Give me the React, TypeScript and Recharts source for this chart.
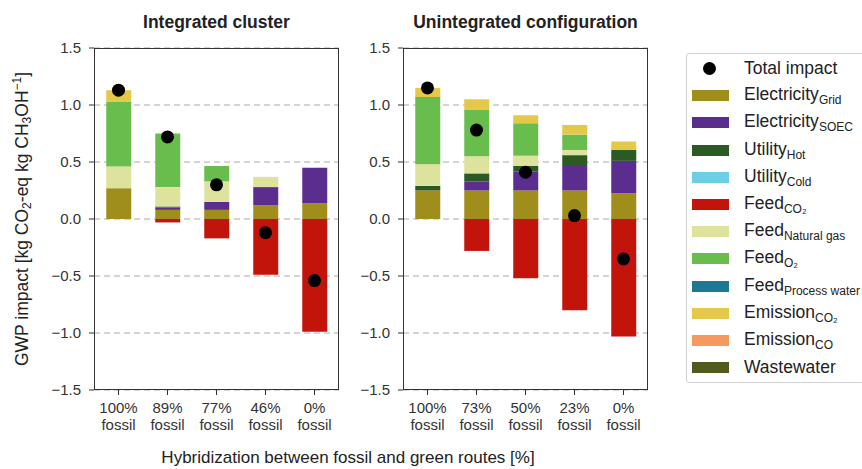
import React from 'react';
import { ComposedChart, Bar, Line, XAxis, YAxis, CartesianGrid } from 'recharts';

// categories
const leftCategories = ['100% fossil', '89% fossil', '77% fossil', '46% fossil', '0% fossil'];
const rightCategories = ['100% fossil', '73% fossil', '50% fossil', '23% fossil', '0% fossil'];

// integrated cluster contributions [kg CO2-eq / kg CH3OH]
const leftGrid = [0.27, 0.08, 0.08, 0.12, 0.14];
const leftSoec = [0, 0.02, 0.07, 0.16, 0.31];
const leftHot = [0, 0.01, 0, 0, 0];
const leftCold = [0, 0, 0, 0, 0];
const leftFeedCo2 = [0, -0.03, -0.17, -0.49, -0.99];
const leftNatGas = [0.19, 0.17, 0.18, 0.09, 0];
const leftO2 = [0.57, 0.47, 0.135, 0, 0];
const leftWater = [0, 0, 0, 0, 0];
const leftEmisCo2 = [0.1, 0, 0, 0, 0];
const leftEmisCo = [0, 0, 0, 0, 0];
const leftWaste = [0, 0, 0, 0, 0];
const leftTotal = [1.13, 0.72, 0.3, -0.12, -0.54];

// unintegrated configuration
const rightGrid = [0.25, 0.25, 0.25, 0.25, 0.225];
const rightSoec = [0, 0.08, 0.165, 0.215, 0.285];
const rightHot = [0.04, 0.07, 0.05, 0.095, 0.095];
const rightCold = [0, 0, 0, 0, 0];
const rightFeedCo2 = [0, -0.28, -0.52, -0.8, -1.03];
const rightNatGas = [0.19, 0.15, 0.09, 0.045, 0];
const rightO2 = [0.59, 0.41, 0.285, 0.135, 0];
const rightWater = [0, 0, 0, 0, 0];
const rightEmisCo2 = [0.08, 0.09, 0.07, 0.085, 0.075];
const rightEmisCo = [0, 0, 0, 0, 0];
const rightWaste = [0, 0, 0, 0, 0];
const rightTotal = [1.15, 0.78, 0.41, 0.03, -0.35];

const yTicks = [-1.5, -1, -0.5, 0, 0.5, 1, 1.5];

const SERIES = [
    { key: 'grid', name: 'Electricity', sub: 'Grid', color: '#a08e1c' },
    { key: 'soec', name: 'Electricity', sub: 'SOEC', color: '#5a2d8f' },
    { key: 'hot', name: 'Utility', sub: 'Hot', color: '#2c5a25' },
    { key: 'cold', name: 'Utility', sub: 'Cold', color: '#6ccfe6' },
    { key: 'feedCo2', name: 'Feed', sub: 'CO₂', color: '#c2140a' },
    { key: 'natGas', name: 'Feed', sub: 'Natural gas', color: '#dde39c' },
    { key: 'o2', name: 'Feed', sub: 'O₂', color: '#69bd4c' },
    { key: 'water', name: 'Feed', sub: 'Process water', color: '#1c7895' },
    { key: 'emisCo2', name: 'Emission', sub: 'CO₂', color: '#e5c84a' },
    { key: 'emisCo', name: 'Emission', sub: 'CO', color: '#f59a5e' },
    { key: 'waste', name: 'Wastewater', sub: '', color: '#4f5a1c' },
];

const buildRows = (cats: string[], cols: Record<string, number[]>, total: number[]) =>
    cats.map((c, i) => {
        const row: Record<string, any> = { label: c, total: total[i] };
        Object.keys(cols).forEach((k) => (row[k] = cols[k][i]));
        return row;
    });

const leftRows = buildRows(leftCategories, {
    grid: leftGrid, soec: leftSoec, hot: leftHot, cold: leftCold, feedCo2: leftFeedCo2, natGas: leftNatGas,
    o2: leftO2, water: leftWater, emisCo2: leftEmisCo2, emisCo: leftEmisCo, waste: leftWaste,
}, leftTotal);

const rightRows = buildRows(rightCategories, {
    grid: rightGrid, soec: rightSoec, hot: rightHot, cold: rightCold, feedCo2: rightFeedCo2, natGas: rightNatGas,
    o2: rightO2, water: rightWater, emisCo2: rightEmisCo2, emisCo: rightEmisCo, waste: rightWaste,
}, rightTotal);

const FONT = '"Liberation Sans", Arial, Helvetica, sans-serif';
const TEXT = '#333';

const fmt = (v: number) => (v < 0 ? '\u2212' + Math.abs(v).toFixed(1) : v.toFixed(1));

const XTick = ({ x, y, payload }: any) => {
    const [a, b] = String(payload.value).split(' ');
    return (
        <text x={x} y={y} textAnchor="middle" fill={TEXT} fontSize={15} fontFamily={FONT}>
            <tspan x={x} dy={16}>{a}</tspan>
            <tspan x={x} dy={17}>{b}</tspan>
        </text>
    );
};

const CHART_W = 345;
const CHART_H = 469;
const PLOT_LEFT = 94;
const PLOT_TOP = 48;
const PLOT_W = 245;
const PLOT_H = 342;

const Panel = ({ rows, left, title }: { rows: any[]; left: number; title: string }) => (
    <div style={{ position: 'absolute', left, top: 0, width: CHART_W, height: CHART_H }}>
        <ComposedChart
            width={CHART_W}
            height={CHART_H}
            data={rows}
            stackOffset="sign"
            barCategoryGap="25%"
            margin={{ top: PLOT_TOP, right: CHART_W - PLOT_LEFT - PLOT_W, bottom: 29, left: 0 }}
        >
            <CartesianGrid vertical={false} stroke="#aaa" strokeDasharray="6 4" />
            <XAxis
                dataKey="label"
                height={50}
                axisLine={false}
                tickLine={{ stroke: TEXT }}
                tickSize={5}
                tick={<XTick />}
                interval={0}
            />
            <YAxis
                width={PLOT_LEFT}
                domain={[-1.5, 1.5]}
                ticks={yTicks}
                tickFormatter={fmt}
                axisLine={false}
                tickLine={{ stroke: TEXT }}
                tickSize={5}
                tickMargin={8}
                tick={{ fill: TEXT, fontSize: 15, fontFamily: FONT }}
            />
            {SERIES.map((s) => (
                <Bar key={s.key} dataKey={s.key} stackId="a" fill={s.color} isAnimationActive={false} />
            ))}
            <Line
                dataKey="total"
                stroke="none"
                dot={{ r: 6.5, fill: '#000', stroke: '#000', strokeWidth: 0 }}
                activeDot={false}
                isAnimationActive={false}
            />
        </ComposedChart>
        <div
            style={{
                position: 'absolute', left: PLOT_LEFT, top: PLOT_TOP, width: PLOT_W, height: PLOT_H,
                border: `1.2px solid ${TEXT}`, boxSizing: 'border-box', pointerEvents: 'none',
            }}
        />
        <div
            style={{
                position: 'absolute', left: PLOT_LEFT - 20, top: 12, width: PLOT_W + 40, textAlign: 'center',
                fontFamily: FONT, fontWeight: 'bold', fontSize: 17.5, color: '#222',
            }}
        >
            {title}
        </div>
    </div>
);

const subStyle: React.CSSProperties = { fontSize: 12, verticalAlign: -4 };

const Legend = () => (
    <div
        style={{
            position: 'absolute', left: 686, top: 53, width: 200, height: 330,
            border: '1px solid #d0d0d0', borderRadius: 3, boxSizing: 'border-box',
            fontFamily: FONT, fontSize: 17.5, color: '#222',
        }}
    >
        <div style={{ position: 'absolute', left: 0, top: 1, height: 27, display: 'flex', alignItems: 'center' }}>
            <div style={{ width: 41, display: 'flex', justifyContent: 'center', marginLeft: 2 }}>
                <div style={{ width: 13, height: 13, borderRadius: 7, background: '#000' }} />
            </div>
            <span style={{ marginLeft: 14 }}>Total impact</span>
        </div>
        {SERIES.map((s, i) => (
            <div
                key={s.key}
                style={{ position: 'absolute', left: 0, top: 1 + 27.2 * (i + 1), height: 27, display: 'flex', alignItems: 'center', whiteSpace: 'nowrap' }}
            >
                <div style={{ width: 37, height: 11, background: s.color, marginLeft: 5 }} />
                <span style={{ marginLeft: 15 }}>
                    {s.name}
                    {s.sub && <span style={subStyle}>{s.sub}</span>}
                </span>
            </div>
        ))}
    </div>
);

export default function App() {
    return (
        <div style={{ position: 'absolute', left: 0, top: 0, width: 862, height: 469, background: '#fff', overflow: 'hidden' }}>
            <Panel rows={leftRows} left={0} title="Integrated cluster" />
            <Panel rows={rightRows} left={309} title="Unintegrated configuration" />
            <Legend />
            <div
                style={{
                    position: 'absolute', left: 22, top: 219, transform: 'translate(-50%, -50%) rotate(-90deg)',
                    whiteSpace: 'nowrap', fontFamily: FONT, fontSize: 17.5, color: '#222',
                }}
            >
                GWP impact [kg CO<span style={{ fontSize: 12, verticalAlign: -3 }}>2</span>-eq kg CH
                <span style={{ fontSize: 12, verticalAlign: -3 }}>3</span>OH
                <span style={{ fontSize: 12, verticalAlign: 7 }}>−1</span>]
            </div>
            <div
                style={{
                    position: 'absolute', left: 0, top: 448, width: 696, textAlign: 'center',
                    fontFamily: FONT, fontSize: 17, lineHeight: '19px', color: '#222',
                }}
            >
                Hybridization between fossil and green routes [%]
            </div>
        </div>
    );
}
